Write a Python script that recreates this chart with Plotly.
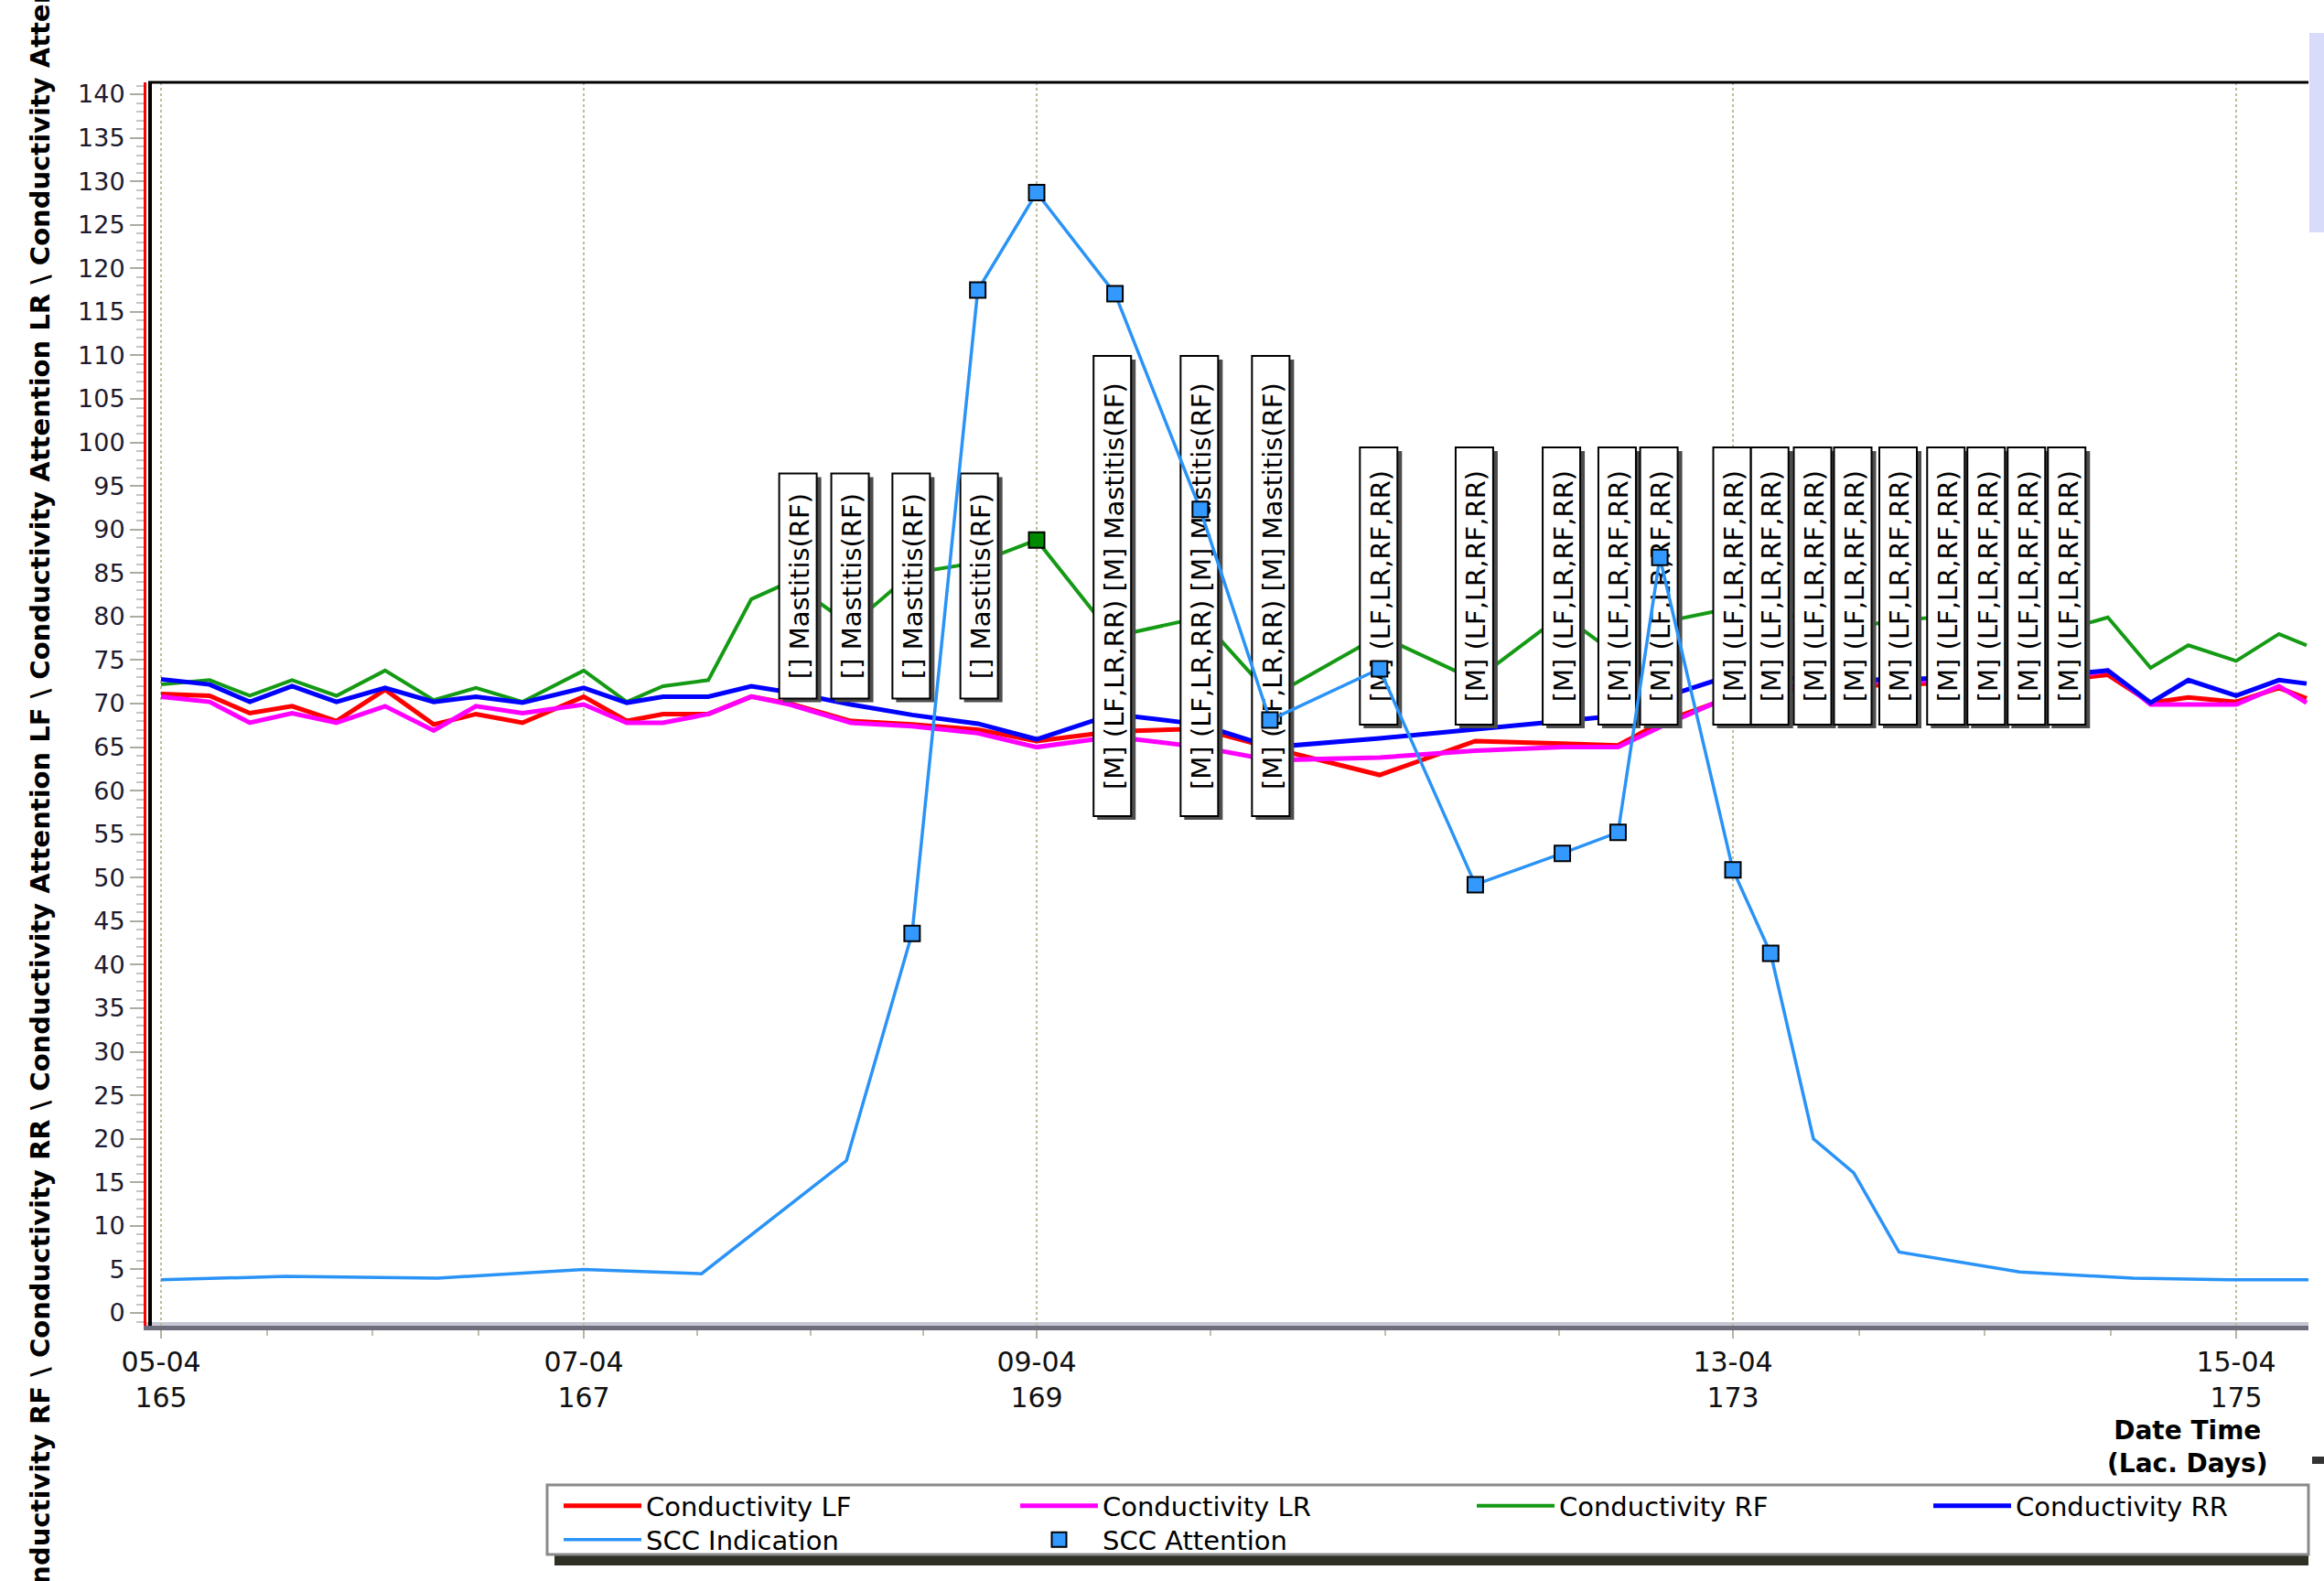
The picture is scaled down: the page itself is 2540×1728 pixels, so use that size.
import numpy as np
import plotly.graph_objects as go

# ---------------------------------------------------------------- data
# milking times in lactation days, conductivity per quarter
cond_days = [165.00, 165.23, 165.42, 165.62, 165.83, 166.06, 166.29, 166.49, 166.71, 167.00,
             167.19, 167.35, 167.55, 167.74, 167.91, 168.18, 168.45, 168.74, 169.00, 169.44,
             169.94, 170.35, 170.97, 171.52, 172.02, 172.34, 172.58, 173.00, 173.15, 173.32,
             173.48, 173.66, 173.85, 174.01, 174.17, 174.33, 174.49, 174.66, 174.81, 175.00,
             175.17, 175.28]
cond_lf = [71.1, 70.9, 68.9, 69.7, 68.0, 71.6, 67.6, 68.8, 67.8, 70.8,
           68.0, 68.8, 68.8, 70.8, 70.0, 68.0, 67.6, 67.0, 65.7, 66.8,
           67.1, 64.9, 61.8, 65.7, 65.4, 65.2, 67.8, 70.8, 71.5, 71.8,
           72.0, 72.2, 72.3, 72.5, 72.7, 72.8, 73.3, 70.1, 70.7, 70.2,
           71.8, 70.6]
cond_lr = [70.8, 70.2, 67.8, 68.9, 67.8, 69.7, 66.9, 69.7, 68.9, 69.9,
           67.8, 67.8, 68.8, 70.8, 69.9, 67.8, 67.4, 66.6, 65.0, 66.2,
           65.0, 63.5, 63.8, 64.6, 65.0, 65.0, 67.3, 71.0, 71.8, 72.2,
           72.4, 72.6, 72.6, 72.8, 73.0, 73.0, 73.8, 69.9, 69.9, 69.9,
           72.0, 70.1]
cond_rf = [72.2, 72.7, 70.9, 72.7, 70.9, 73.8, 70.4, 71.8, 70.2, 73.8,
           70.2, 72.0, 72.7, 82.0, 84.0, 79.0, 85.0, 86.2, 88.8, 77.7,
           79.9, 70.8, 77.8, 72.7, 80.2, 75.5, 79.3, 81.0, 80.5, 79.6,
           78.8, 79.6, 80.0, 79.7, 79.2, 78.6, 79.9, 74.1, 76.7, 74.9,
           78.0, 76.7]
cond_rr = [72.8, 72.2, 70.2, 72.0, 70.2, 71.8, 70.2, 70.8, 70.1, 71.8,
           70.1, 70.8, 70.8, 72.0, 71.3, 69.9, 68.7, 67.7, 65.9, 68.8,
           67.6, 65.0, 66.0, 67.0, 68.0, 68.6, 70.6, 73.3, 73.0, 72.8,
           72.7, 72.8, 72.9, 73.1, 73.2, 73.4, 73.8, 70.1, 72.7, 70.9,
           72.7, 72.3]
rf_attention_days = [169.00]

# somatic cell count indication and the samples flagged for attention
scc_days = [165.00, 165.59, 166.31, 167.00, 167.52, 168.16, 168.45, 168.74, 169.00, 169.45,
            169.94, 170.34, 170.97, 171.52, 172.02, 172.34, 172.58, 173.00, 173.15, 173.32,
            173.48, 173.66, 174.14, 174.59, 174.97, 175.29]
scc_values = [3.8, 4.2, 4.0, 5.0, 4.5, 17.5, 43.6, 117.5, 128.7, 117.1,
              92.3, 68.1, 74.0, 49.2, 52.8, 55.2, 86.8, 50.9, 41.3, 20.0,
              16.1, 7.0, 4.7, 4.0, 3.8, 3.8]
scc_attention_days = [168.45, 168.74, 169.00, 169.45, 169.94, 170.34, 170.97, 171.52,
                      172.02, 172.34, 172.58, 173.00, 173.15]

# alarm notes shown along the time line
alarm_days = [167.95, 168.18, 168.45, 168.75, 169.44, 169.94, 170.35, 170.97, 171.52, 172.02,
              172.34, 172.58, 173.00, 173.15, 173.32, 173.48, 173.66, 173.85, 174.01, 174.17,
              174.33]
alarm_text = (["[] Mastitis(RF)"] * 4
              + ["[M] (LF,LR,RR) [M] Mastitis(RF)"] * 3
              + ["[M] (LF,LR,RF,RR)"] * 14)

date_tick_days = [165, 167, 169, 173, 175]
date_tick_text = ["05-04", "07-04", "09-04", "13-04", "15-04"]
minor_tick_days = [165.5, 166, 166.5, 167.5, 168, 168.5, 170, 171, 172, 173.5, 174, 174.5]

y_title = ("Conductivity LF \\ Conductivity LR \\ Conductivity RF \\ Conductivity RR \\ "
           "Conductivity Attention LF \\ Conductivity Attention LR \\ "
           "Conductivity Attention RF \\ Conductivity Attention RR")

# ---------------------------------------------------------------- time scale
# the milking-robot chart stretches each day range differently
DAY_ANCHORS = [165, 167, 169, 173, 175]
AXIS_ANCHORS = [0, 462, 957, 1718, 2268]


def to_axis(days):
    d = np.asarray(days, dtype=float)
    u = np.interp(d, DAY_ANCHORS, AXIS_ANCHORS)
    lo_slope = (AXIS_ANCHORS[1] - AXIS_ANCHORS[0]) / (DAY_ANCHORS[1] - DAY_ANCHORS[0])
    hi_slope = (AXIS_ANCHORS[-1] - AXIS_ANCHORS[-2]) / (DAY_ANCHORS[-1] - DAY_ANCHORS[-2])
    u = np.where(d < DAY_ANCHORS[0], AXIS_ANCHORS[0] + (d - DAY_ANCHORS[0]) * lo_slope, u)
    u = np.where(d > DAY_ANCHORS[-1], AXIS_ANCHORS[-1] + (d - DAY_ANCHORS[-1]) * hi_slope, u)
    return u


def pick(days, values, wanted):
    lookup = {round(d, 2): v for d, v in zip(days, values)}
    return [lookup[round(w, 2)] for w in wanted]


# ---------------------------------------------------------------- layout geometry
W, H = 2540, 1728
PL, PR, PT, PB = 160, 2523, 90, 1449
X_RANGE = [-16, 2347]
Y_RANGE = [-1.47, 141.37]
Y_PER_PX = (Y_RANGE[1] - Y_RANGE[0]) / (PB - PT)
FONT = "DejaVu Sans"


def paper_x(px):
    return (px - PL) / (PR - PL)


def paper_y(py):
    return (PB - py) / (PB - PT)


# one single-entry legend per slot of the two-row legend panel
LEGEND_SLOTS = {
    "Conductivity LF": ("legend", 611, 1646),
    "Conductivity LR": ("legend2", 1110, 1646),
    "Conductivity RF": ("legend3", 1609, 1646),
    "Conductivity RR": ("legend4", 2108, 1646),
    "SCC Indication": ("legend5", 611, 1683),
    "SCC Attention": ("legend6", 1110, 1683),
}

# ---------------------------------------------------------------- figure
fig = go.Figure()

series = [("Conductivity LF", cond_lf, "#ff0000", 5),
          ("Conductivity LR", cond_lr, "#ff00ff", 5),
          ("Conductivity RF", cond_rf, "#159a15", 4),
          ("Conductivity RR", cond_rr, "#0000ff", 5)]
u_cond = to_axis(cond_days)
for name, vals, color, width in series:
    fig.add_trace(go.Scatter(x=u_cond, y=vals, mode="lines", name=name,
                             legend=LEGEND_SLOTS[name][0],
                             line=dict(color=color, width=width),
                             xaxis="x", yaxis="y"))

fig.add_trace(go.Scatter(x=to_axis(scc_days), y=scc_values, mode="lines",
                         name="SCC Indication", legend=LEGEND_SLOTS["SCC Indication"][0],
                         line=dict(color="#2a93f7", width=3.5),
                         xaxis="x2", yaxis="y2"))
fig.add_trace(go.Scatter(x=to_axis(scc_attention_days),
                         y=pick(scc_days, scc_values, scc_attention_days),
                         mode="markers", name="SCC Attention",
                         legend=LEGEND_SLOTS["SCC Attention"][0],
                         marker=dict(symbol="square", size=17, color="#3399ff",
                                     line=dict(color="black", width=2)),
                         xaxis="x2", yaxis="y2"))
fig.add_trace(go.Scatter(x=to_axis(rf_attention_days),
                         y=pick(cond_days, cond_rf, rf_attention_days),
                         mode="markers", name="Conductivity Attention RF",
                         showlegend=False,
                         marker=dict(symbol="square", size=17, color="#008a00",
                                     line=dict(color="black", width=2)),
                         xaxis="x", yaxis="y"))

# alarm note boxes sit above the conductivity lines but below the SCC line
BOX_HALF_W = 21.5
BOX_CENTER_Y = 83.5
BOX_HEIGHT_PX = {"[] Mastitis(RF)": 246,
                 "[M] (LF,LR,RR) [M] Mastitis(RF)": 503,
                 "[M] (LF,LR,RF,RR)": 303}
shapes = []
u_alarm = to_axis(alarm_days)
for u, txt in zip(u_alarm, alarm_text):
    half_h = BOX_HEIGHT_PX[txt] / 2 * Y_PER_PX
    shapes.append(dict(type="rect", xref="x2", yref="y2", layer="below",
                       x0=u - BOX_HALF_W + 4, x1=u + BOX_HALF_W + 3,
                       y0=BOX_CENTER_Y - half_h - 4 * Y_PER_PX,
                       y1=BOX_CENTER_Y + half_h - 4 * Y_PER_PX,
                       fillcolor="#4d4d4d", line=dict(width=0)))
for u, txt in zip(u_alarm, alarm_text):
    half_h = BOX_HEIGHT_PX[txt] / 2 * Y_PER_PX
    shapes.append(dict(type="rect", xref="x2", yref="y2", layer="below",
                       x0=u - BOX_HALF_W, x1=u + BOX_HALF_W - 2,
                       y0=BOX_CENTER_Y - half_h, y1=BOX_CENTER_Y + half_h,
                       fillcolor="white", line=dict(color="black", width=2),
                       label=dict(text=txt, textangle=-90, textposition="middle center",
                                  padding=0,
                                  font=dict(family=FONT, size=29, color="black"))))

# frame pieces around the plot area
shapes += [
    dict(type="rect", xref="paper", yref="paper", layer="below",
         x0=paper_x(PL), x1=1, y0=paper_y(PB), y1=paper_y(PB - 4),
         fillcolor="#c6c6d4", line=dict(width=0)),
    dict(type="line", xref="paper", yref="paper", layer="above",
         x0=paper_x(164), x1=paper_x(164), y0=0, y1=1,
         line=dict(color="black", width=4)),
    dict(type="line", xref="paper", yref="paper", layer="above",
         x0=paper_x(162), x1=1, y0=1, y1=1,
         line=dict(color="black", width=3)),
    # legend panel and its shadow
    dict(type="rect", xref="paper", yref="paper", layer="below",
         x0=paper_x(606), x1=paper_x(2523), y0=paper_y(1711), y1=paper_y(1699),
         fillcolor="#2f2f26", line=dict(width=0)),
    dict(type="rect", xref="paper", yref="paper", layer="below",
         x0=paper_x(598), x1=paper_x(2523), y0=paper_y(1699), y1=paper_y(1623),
         fillcolor="white", line=dict(color="#8a8a8a", width=3)),
    # neighbouring window edge on the right
    dict(type="rect", xref="paper", yref="paper", layer="above",
         x0=paper_x(2524), x1=paper_x(2540), y0=paper_y(254), y1=paper_y(36),
         fillcolor="#d9dbfb", line=dict(width=0)),
    dict(type="rect", xref="paper", yref="paper", layer="above",
         x0=paper_x(2527), x1=paper_x(2540), y0=paper_y(1600), y1=paper_y(1592),
         fillcolor="#333333", line=dict(width=0)),
]

annotations = [
    dict(text=y_title, textangle=-90, showarrow=False,
         xref="paper", yref="paper", x=paper_x(43), xanchor="center",
         y=paper_y(2348), yanchor="bottom",
         font=dict(family=FONT, size=29, color="black", weight="bold")),
    dict(text="Date Time<br>(Lac. Days)", showarrow=False,
         xref="paper", yref="paper", x=paper_x(2391), xanchor="center",
         y=paper_y(1581), yanchor="middle", align="center",
         font=dict(family=FONT, size=28, color="black", weight="bold")),
]

tick_text = [f"{d}<br>{int(l)}" for d, l in zip(date_tick_text, date_tick_days)]

legends = {}
for key, lx, ly in LEGEND_SLOTS.values():
    legends[key] = dict(x=paper_x(lx), xanchor="left", y=paper_y(ly), yanchor="middle",
                        bgcolor="rgba(0,0,0,0)", borderwidth=0,
                        font=dict(family=FONT, size=29, color="black"),
                        itemwidth=85, tracegroupgap=0)

fig.update_layout(
    width=W, height=H,
    margin=dict(l=PL, r=W - PR, t=PT, b=H - PB),
    paper_bgcolor="white", plot_bgcolor="rgba(0,0,0,0)",
    showlegend=True,
    xaxis=dict(range=X_RANGE, tickmode="array",
               tickvals=to_axis(date_tick_days), ticktext=tick_text,
               ticks="outside", ticklen=9, tickwidth=2, tickcolor="#b4b4a4",
               showgrid=True, gridcolor="#bdbd9c", gridwidth=2, griddash="dot",
               showline=True, linecolor="#6d6d7d", linewidth=5, zeroline=False,
               tickfont=dict(family=FONT, size=30, color="#111111"),
               minor=dict(tickvals=to_axis(minor_tick_days), ticks="outside",
                          ticklen=6, tickwidth=2, tickcolor="#c0c0b0", showgrid=False)),
    yaxis=dict(range=Y_RANGE, tickmode="linear", tick0=0, dtick=5,
               ticks="outside", ticklen=15, tickwidth=2, tickcolor="#a9ada3",
               showgrid=False, zeroline=False,
               showline=True, linecolor="#ff0000", linewidth=3,
               tickfont=dict(family=FONT, size=27, color="#1e1a2e"),
               minor=dict(dtick=1, ticks="outside", ticklen=8, tickwidth=2,
                          tickcolor="#c4c8bf", showgrid=False)),
    xaxis2=dict(range=X_RANGE, anchor="y2", visible=False),
    yaxis2=dict(range=Y_RANGE, anchor="x2", visible=False),
    shapes=shapes,
    annotations=annotations,
    **legends,
)

fig.write_html("out.html")
